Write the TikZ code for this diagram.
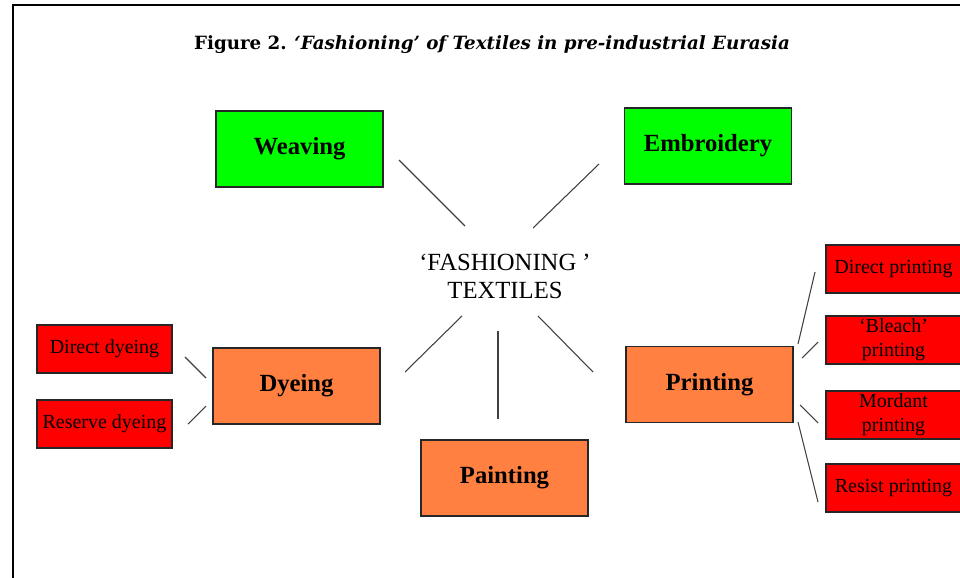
\documentclass[tikz,border=0pt]{standalone}
\usepackage{fontspec}
\setmainfont{Liberation Serif}
\newfontfamily\titlefont{DejaVu Serif}
\usepackage{tikz}

\definecolor{weavegreen}{HTML}{00FF00}
\definecolor{dyeorange}{HTML}{FF8040}
\definecolor{subred}{HTML}{FF0000}

\begin{document}
\begin{tikzpicture}[x=0.75pt,y=-0.75pt,%
  every node/.style={inner sep=0pt},
  bigbox/.style={draw=black!85, line width=1pt, minimum width=125.25pt,
    minimum height=57pt, font=\fontsize{18.5}{20}\selectfont\bfseries},
  subbox/.style={draw=black!85, line width=0.9pt, fill=subred,
    minimum width=101.25pt, minimum height=36pt, align=center,
    font=\fontsize{15}{18}\selectfont},
  link/.style={draw=black!75, line width=0.8pt}]
  \useasboundingbox (0,0) rectangle (960,578);
  \draw[line width=1.6pt] (13,578) -- (13,5) -- (960,5);

  \node (title) at (492,45) {\titlefont\fontsize{13.7}{15}\selectfont
    \textbf{Figure 2.} \textbf{\itshape ‘Fashioning’ of Textiles in pre-industrial Eurasia}};

  \node[align=center, font=\fontsize{18.5}{21}\selectfont] (hub) at (505,276)
    {‘FASHIONING ’\\TEXTILES};

  % main techniques
  \node[bigbox, fill=weavegreen] (weave) at (299.5,149) {Weaving};
  \node[bigbox, fill=weavegreen] (embroid) at (708,146) {Embroidery};
  \node[bigbox, fill=dyeorange] (dye) at (296.5,386) {Dyeing};
  \node[bigbox, fill=dyeorange] (paint) at (504.5,478) {Painting};
  \node[bigbox, fill=dyeorange] (print) at (709.5,384.5) {Printing};

  % dyeing methods
  \node[subbox] (ddye) at (104.5,349) {Direct dyeing};
  \node[subbox] (rdye) at (104.5,424) {Reserve dyeing};

  % printing methods
  \node[subbox] (dprint) at (893.5,269) {Direct printing};
  \node[subbox] (bprint) at (893.5,340) {‘Bleach’\\printing};
  \node[subbox] (mprint) at (893.5,415) {Mordant\\printing};
  \node[subbox] (rprint) at (893.5,488) {Resist printing};

  % line ends
  \coordinate (weave-a) at (399,160);   \coordinate (weave-b) at (465,226);
  \coordinate (embroid-a) at (599,164); \coordinate (embroid-b) at (533,228);
  \coordinate (dye-a) at (405,372);     \coordinate (dye-b) at (462,316);
  \coordinate (paint-a) at (498,419);   \coordinate (paint-b) at (498,331);
  \coordinate (print-a) at (593,372);   \coordinate (print-b) at (538,316);
  \coordinate (ddye-a) at (185,357);    \coordinate (ddye-b) at (206,378);
  \coordinate (rdye-a) at (188,424);    \coordinate (rdye-b) at (206,406);
  \coordinate (dprint-a) at (815,272);  \coordinate (dprint-b) at (798,344);
  \coordinate (bprint-a) at (818,342);  \coordinate (bprint-b) at (802,358);
  \coordinate (mprint-a) at (818,423);  \coordinate (mprint-b) at (800,405);
  \coordinate (rprint-a) at (818,502);  \coordinate (rprint-b) at (798,422);

  \foreach \n in {weave,embroid,dye,paint,print,ddye,rdye,dprint,bprint,mprint,rprint}
    \draw[link] (\n-a) -- (\n-b);
\end{tikzpicture}
\end{document}
